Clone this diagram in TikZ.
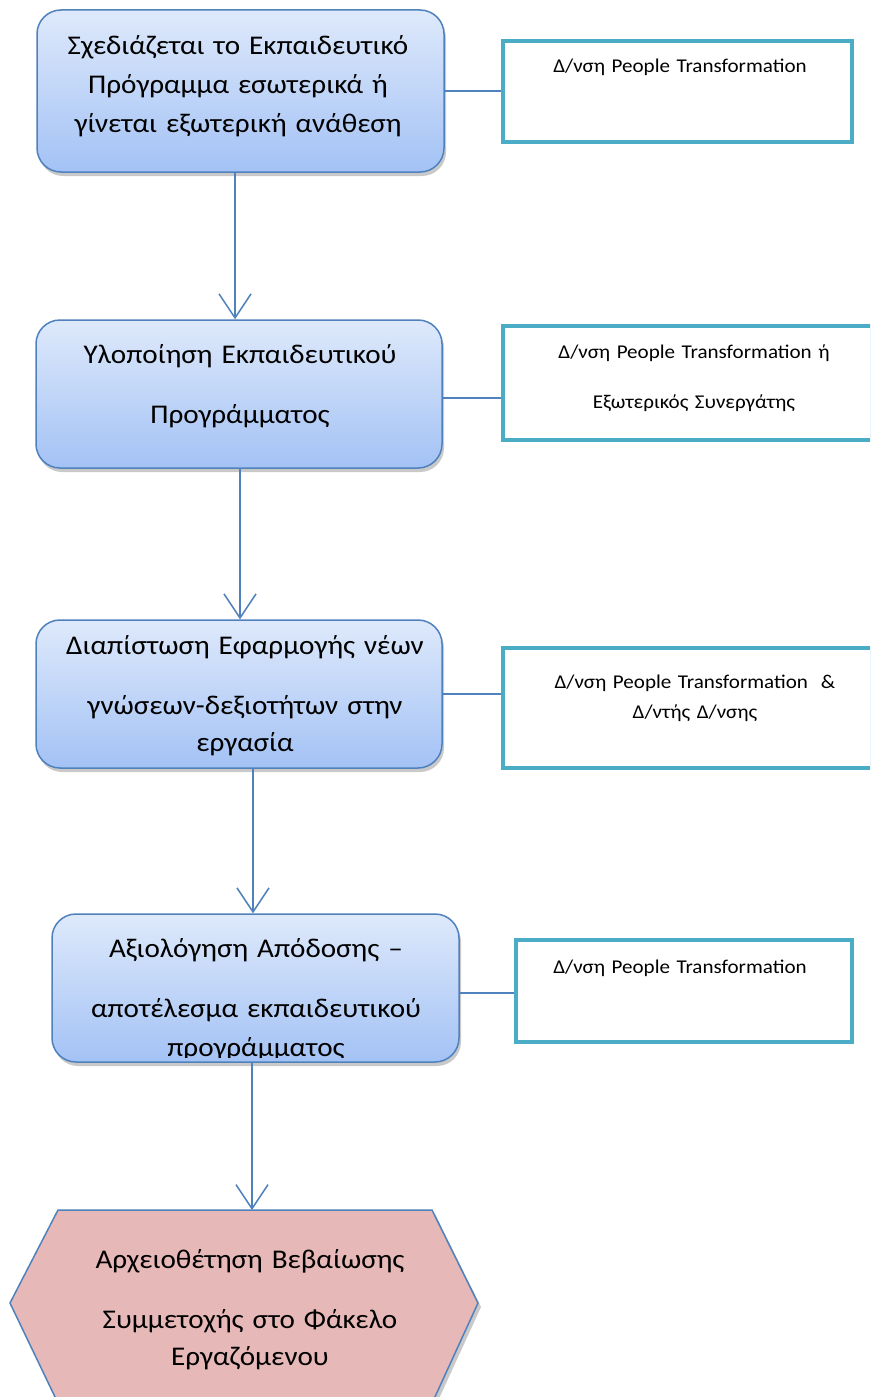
\documentclass[tikz,border=0pt]{standalone}
\usepackage{fontspec}
\setmainfont{Carlito}[FakeStretch=1.08]
\usetikzlibrary{arrows.meta,shadows}
\definecolor{ublue}{RGB}{79,129,189}
\definecolor{gtop}{RGB}{222,233,251}
\definecolor{gbot}{RGB}{163,194,245}
\definecolor{tealc}{RGB}{75,172,198}
\definecolor{hexfill}{RGB}{230,185,184}
\tikzset{
 mainbox/.style={draw=ublue, line width=1.5pt, rounded corners=24pt, top color=gtop, bottom color=gbot,
   drop shadow={shadow xshift=2pt, shadow yshift=-4pt, opacity=0.35, fill=black!60}, inner sep=0pt},
 sidebox/.style={draw=tealc, line width=3.5pt, fill=white, inner sep=0pt},
 maintext/.style={font=\fontsize{27}{39}\selectfont, text width=440pt, align=center, anchor=base, inner sep=0pt},
 sidetext/.style={font=\fontsize{19.5}{30}\selectfont, text width=360pt, align=center, anchor=base, inner sep=0pt},
 flow/.style={draw=ublue, line width=1.5pt, -{Straight Barb[length=24pt,width=32pt,line width=1.5pt]}},
 link/.style={draw=ublue, line width=1.3pt},
 hexshape/.style={draw=ublue, line width=1.5pt, fill=hexfill,
   drop shadow={shadow xshift=3pt, shadow yshift=-4pt, opacity=0.35, fill=black!60}},
}
\begin{document}
\begin{tikzpicture}[x=1pt,y=-1pt]
\clip (0,0) rectangle (870,1397);
\fill[white] (0,0) rectangle (870,1397);

% main boxes
\node[mainbox, minimum width=407pt, minimum height=162pt] (b1) at (240.5,91) {};
\node[mainbox, minimum width=406pt, minimum height=148pt] (b2) at (239,394) {};
\node[mainbox, minimum width=406pt, minimum height=148pt] (b3) at (239,694) {};
\node[mainbox, minimum width=407pt, minimum height=148pt] (b4) at (255.5,988) {};

\node[maintext] (t1) at (238,55) {Σχεδιάζεται το Εκπαιδευτικό\\Πρόγραμμα εσωτερικά ή\\γίνεται εξωτερική ανάθεση};
\node[maintext] (t2) at (240,363) {Υλοποίηση Εκπαιδευτικού\\[21pt]Προγράμματος};
\node[maintext] (t3) at (245,654) {Διαπίστωση Εφαρμογής νέων\\[21pt]γνώσεων-δεξιοτήτων στην\\[-2pt]εργασία};
\begin{scope}
\clip[rounded corners=22pt] ([xshift=2pt,yshift=5pt]b4.south west) rectangle ([xshift=-2pt]b4.north east);
\node[maintext] (t4) at (256,957) {Αξιολόγηση Απόδοσης –\\[21pt]αποτέλεσμα εκπαιδευτικού\\[0pt]προγράμματος};
\end{scope}

% side boxes
\node[sidebox, minimum width=349pt, minimum height=101pt] (r1) at (677.5,91.5) {};
\node[sidebox, minimum width=369pt, minimum height=114pt] (r2) at (687.5,383) {};
\node[sidebox, minimum width=369pt, minimum height=120pt] (r3) at (687.5,708) {};
\node[sidebox, minimum width=336pt, minimum height=102pt] (r4) at (684,991) {};

\node[sidetext] (s1) at (680,72) {Δ/νση People Transformation};
\node[sidetext] (s2) at (694,358) {Δ/νση People Transformation ή\\[20pt]Εξωτερικός Συνεργάτης};
\node[sidetext] (s3) at (695,688) {Δ/νση People Transformation\ \ \&\\Δ/ντής Δ/νσης};
\node[sidetext] (s4) at (680,973) {Δ/νση People Transformation};

% links
\draw[link] (b1.east) -- (b1.east -| r1.west);
\draw[link] ([yshift=-4pt]b2.east) -- ([yshift=-4pt]b2.east -| r2.west);
\draw[link] (b3.east) -- (b3.east -| r3.west);
\draw[link] ([yshift=-5pt]b4.east) -- ([yshift=-5pt]b4.east -| r4.west);

% hexagon
\draw[hexshape] (58,1210) -- (432,1210) -- (478,1303) -- (434,1399) -- (56,1399) -- (10,1303) -- cycle;
\coordinate (hextop) at (252,1210);
\node[maintext] (t5) at (250,1268) {Αρχειοθέτηση Βεβαίωσης\\[21pt]Συμμετοχής στο Φάκελο\\[-2pt]Εργαζόμενου};

% flow arrows
\draw[flow] ([xshift=-5.5pt]b1.south) -- ([xshift=-4pt]b2.north);
\draw[flow] ([xshift=1pt]b2.south) -- ([xshift=1pt]b3.north);
\draw[flow] ([xshift=14pt]b3.south) -- ([xshift=-2.5pt]b4.north);
\draw[flow] ([xshift=-3.5pt]b4.south) -- (hextop);
\end{tikzpicture}
\end{document}
